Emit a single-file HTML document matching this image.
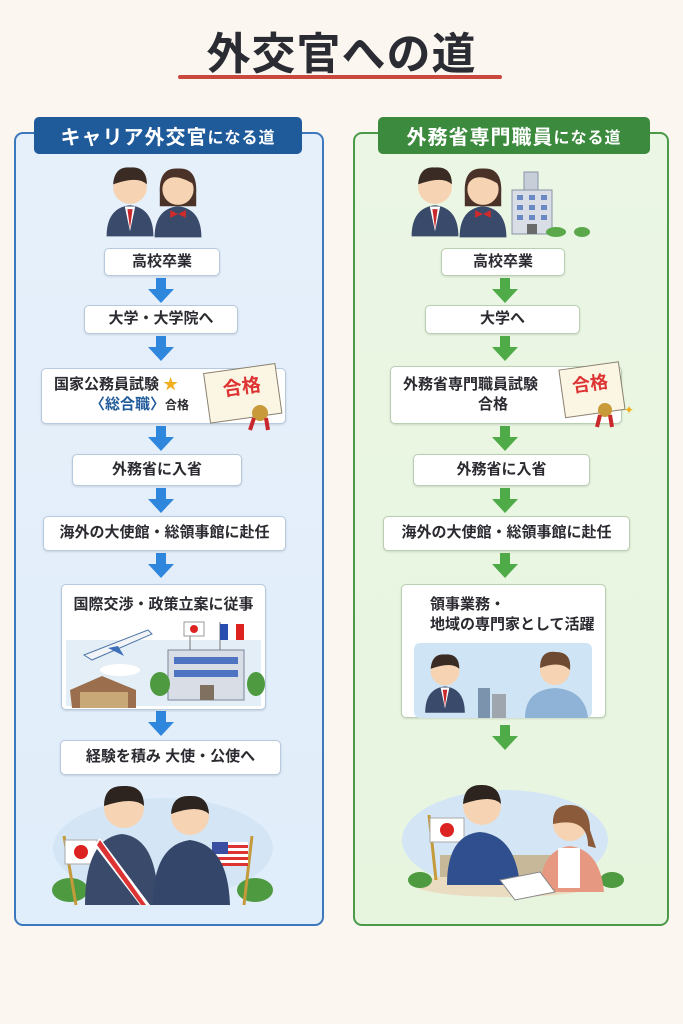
<!DOCTYPE html>
<html><head><meta charset="utf-8"><style>
*{margin:0;padding:0;box-sizing:border-box}
body{width:683px;height:1024px;background:#fbf7f0;position:relative;overflow:hidden;font-family:"Liberation Sans","Noto Sans CJK JP",sans-serif;color:#2a2a30}
.a{position:absolute}
.title{left:0;width:683px;top:18px;text-align:center;font-size:44px;font-weight:bold;color:#2b2b33;letter-spacing:1px}
.ul{left:178px;top:75px;width:324px;height:4px;background:#c9483e;border-radius:2px}
.panel{border-radius:9px;border:2.5px solid}
.pl{left:14px;top:132px;width:310px;height:794px;background:linear-gradient(#e6f0fb,#e0edfa);border-color:#3b78bd}
.pr{left:353px;top:132px;width:316px;height:794px;background:linear-gradient(#ebf6e4,#e7f5df);border-color:#4a9a49}
.tab{height:37px;border-radius:5px;color:#fff;font-size:20px;font-weight:bold;display:flex;align-items:center;justify-content:center;letter-spacing:1px}
.box{background:#fff;border:1.5px solid #b7c9dc;border-radius:5px;display:flex;align-items:center;justify-content:center;font-size:15px;font-weight:bold;text-align:center;line-height:1.35;box-shadow:0 1px 2px rgba(0,0,0,.12)}
.g .box,.box.g{border-color:#b9cfb1}
</style></head><body>
<svg width="0" height="0" style="position:absolute"><defs>
<g id="boy"><path d="M-18 48 Q-18 26 0 24 Q18 26 18 48Z" fill="#3a4a6b"/><path d="M-4 25 L0 44 L4 25Z" fill="#fff"/><path d="M-2 27 L0 42 L2 27Z" fill="#c8282c"/><circle cx="0" cy="10" r="13" fill="#f6d3b3"/><path d="M-13 8 Q-12 -6 0 -5 Q13 -6 13 8 Q6 1 -13 8Z" fill="#3a2c24"/></g>
<g id="girl"><path d="M-18 48 Q-18 26 0 24 Q18 26 18 48Z" fill="#3a4a6b"/><path d="M-14 14 Q-15 -6 0 -5 Q15 -6 14 14 L14 24 L-14 24Z" fill="#4a3228"/><circle cx="0" cy="11" r="12" fill="#f6d3b3"/><path d="M-12 8 Q-6 -4 12 7 Q10 -5 0 -4 Q-12 -4 -12 8Z" fill="#4a3228"/><path d="M-6 27 L0 30 L6 27 L6 33 L0 30 L-6 33Z" fill="#d02a2a"/></g>
<g id="bldg"><rect x="0" y="0" width="40" height="44" fill="#d8dde6" stroke="#8894a6"/><g fill="#6a89c4"><rect x="5" y="5" width="6" height="5"/><rect x="17" y="5" width="6" height="5"/><rect x="29" y="5" width="6" height="5"/><rect x="5" y="15" width="6" height="5"/><rect x="17" y="15" width="6" height="5"/><rect x="29" y="15" width="6" height="5"/><rect x="5" y="25" width="6" height="5"/><rect x="17" y="25" width="6" height="5"/><rect x="29" y="25" width="6" height="5"/></g><rect x="15" y="34" width="10" height="10" fill="#6a6a6a"/></g>
<g id="arrB"><rect x="-5" y="0" width="10" height="12" fill="#2f86dd"/><path d="M-13 11 L13 11 L0 25Z" fill="#2f86dd"/></g>
<g id="arrG"><rect x="-5" y="0" width="10" height="12" fill="#4faa48"/><path d="M-13 11 L13 11 L0 25Z" fill="#4faa48"/></g>
</defs></svg>

<div class="a title">外交官への道</div>
<div class="a ul"></div>

<div class="a panel pl"></div>
<div class="a panel pr"></div>
<div class="a tab" style="left:34px;top:117px;width:268px;background:#1f5a9a">キャリア外交官<span style="font-size:16px">になる道</span></div>
<div class="a tab" style="left:378px;top:117px;width:272px;background:#3b8a3e">外務省専門職員<span style="font-size:16px">になる道</span></div>

<svg class="a" style="left:0;top:0" width="683" height="1024">
 <use href="#boy" transform="translate(130 174) scale(1.3)"/><use href="#girl" transform="translate(178 175) scale(1.3)"/>
 <use href="#boy" transform="translate(435 174) scale(1.3)"/><use href="#girl" transform="translate(483 175) scale(1.3)"/>
 <use href="#bldg" x="512" y="190"/><rect x="524" y="172" width="14" height="18" fill="#c8ced8" stroke="#8894a6"/>
 <ellipse cx="556" cy="232" rx="10" ry="5" fill="#5aa84a"/><ellipse cx="582" cy="232" rx="8" ry="5" fill="#5aa84a"/>
 <use href="#arrB" x="161" y="278"/><use href="#arrB" x="161" y="336"/><use href="#arrB" x="161" y="426"/>
 <use href="#arrB" x="161" y="488"/><use href="#arrB" x="161" y="553"/><use href="#arrB" x="161" y="711"/>
 <use href="#arrG" x="505" y="278"/><use href="#arrG" x="505" y="336"/><use href="#arrG" x="505" y="426"/>
 <use href="#arrG" x="505" y="488"/><use href="#arrG" x="505" y="553"/><use href="#arrG" x="505" y="725"/>
</svg>

<div class="a box" style="left:104px;top:248px;width:116px;height:28px">高校卒業</div>
<div class="a box" style="left:84px;top:305px;width:154px;height:29px">大学・大学院へ</div>
<div class="a box" style="left:41px;top:368px;width:245px;height:56px;justify-content:flex-start;padding-left:12px;display:block;padding-top:6px;text-align:left">国家公務員試験 <span style="color:#f0b020">★</span><br><span style="margin-left:36px;color:#1f5a9a">〈総合職〉</span><span style="font-size:12px">合格</span></div>
<div class="a box" style="left:72px;top:454px;width:170px;height:32px">外務省に入省</div>
<div class="a box" style="left:43px;top:516px;width:243px;height:35px">海外の大使館・総領事館に赴任</div>
<div class="a box" style="left:61px;top:584px;width:205px;height:126px;align-items:flex-start;padding-top:10px">国際交渉・政策立案に従事</div>
<div class="a box" style="left:60px;top:740px;width:221px;height:35px">経験を積み 大使・公使へ</div>

<div class="a box g" style="left:441px;top:248px;width:124px;height:28px">高校卒業</div>
<div class="a box g" style="left:425px;top:305px;width:155px;height:29px">大学へ</div>
<div class="a box g" style="left:390px;top:366px;width:232px;height:58px;justify-content:flex-start;padding-left:12px">外務省専門職員試験<br>　　　合格</div>
<div class="a box g" style="left:413px;top:454px;width:177px;height:32px">外務省に入省</div>
<div class="a box g" style="left:383px;top:516px;width:247px;height:35px">海外の大使館・総領事館に赴任</div>
<div class="a box g" style="left:401px;top:584px;width:205px;height:134px;display:block;text-align:left;padding:10px 0 0 28px">領事業務・<br>地域の専門家として活躍</div>

<svg class="a" style="left:0;top:0" width="683" height="1024">
 <g transform="rotate(-8 245 395)"><rect x="207" y="368" width="72" height="50" fill="#fbf5e4" stroke="#8a8070"/><text x="243" y="393" font-size="19" font-weight="bold" fill="#d33" text-anchor="middle" font-family="Liberation Sans,Noto Sans CJK JP,sans-serif">合格</text></g>
 <circle cx="260" cy="413" r="8" fill="#c99a3a"/><path d="M254 418 L250 430 M266 418 L268 430" stroke="#c8282c" stroke-width="4"/>
 <g transform="rotate(-8 590 390)"><rect x="562" y="366" width="60" height="48" fill="#fbf5e4" stroke="#8a8070"/><text x="591" y="390" font-size="18" font-weight="bold" fill="#d33" text-anchor="middle" font-family="Liberation Sans,Noto Sans CJK JP,sans-serif">合格</text></g>
 <circle cx="605" cy="410" r="7" fill="#c99a3a"/><path d="M600 415 L597 427 M610 415 L612 427" stroke="#c8282c" stroke-width="4"/>
 <text x="624" y="414" font-size="12" fill="#f0b020">✦</text>
 <rect x="66" y="640" width="195" height="66" fill="#e3eef7"/>
 <ellipse cx="120" cy="670" rx="20" ry="6" fill="#fff"/>
 <path d="M84 655 L148 630 L152 634 L92 660Z" fill="#f2f4f8" stroke="#5078a8"/><path d="M108 648 L124 656 L118 646Z" fill="#3c70b8"/>
 <rect x="168" y="650" width="76" height="50" fill="#d8dde6" stroke="#7a8699"/>
 <g fill="#4f74c2"><rect x="174" y="657" width="64" height="7"/><rect x="174" y="670" width="64" height="7"/></g>
 <rect x="200" y="685" width="14" height="15" fill="#807060"/>
 <line x1="190" y1="622" x2="190" y2="650" stroke="#777"/><rect x="184" y="622" width="20" height="14" fill="#fff" stroke="#999"/><circle cx="194" cy="629" r="4" fill="#d22"/>
 <line x1="220" y1="622" x2="220" y2="650" stroke="#777"/><rect x="220" y="624" width="24" height="16" fill="#fff"/><rect x="220" y="624" width="8" height="16" fill="#2a4db0"/><rect x="236" y="624" width="8" height="16" fill="#d22"/>
 <ellipse cx="160" cy="684" rx="10" ry="12" fill="#4e9a40"/><ellipse cx="256" cy="684" rx="9" ry="12" fill="#4e9a40"/>
 <path d="M70 690 L102 676 L136 690 L136 708 L72 708Z" fill="#9b6f4e"/><rect x="80" y="692" width="48" height="16" fill="#c9a878"/>
 <rect x="414" y="643" width="178" height="75" rx="6" fill="#cfe4f4"/>
 <rect x="478" y="688" width="12" height="30" fill="#7c93ad"/><rect x="492" y="694" width="14" height="24" fill="#a0a6ae"/>
 <use href="#boy" transform="translate(445 660) scale(1.1)"/>
 <path d="M525 718 Q525 690 555 688 Q585 690 588 718Z" fill="#8fb3d6"/><circle cx="555" cy="670" r="15" fill="#f6d3b3"/><path d="M540 668 Q540 650 556 652 Q572 652 570 670 Q560 660 540 668Z" fill="#6e4a32"/>
 <ellipse cx="163" cy="848" rx="110" ry="50" fill="#d4e6f5"/>
 <ellipse cx="70" cy="890" rx="18" ry="12" fill="#4e9a40"/><ellipse cx="255" cy="890" rx="18" ry="12" fill="#4e9a40"/>
 <line x1="64" y1="836" x2="76" y2="905" stroke="#c49a3a" stroke-width="3"/><rect x="65" y="840" width="32" height="24" fill="#fff" stroke="#aaa"/><circle cx="81" cy="852" r="7" fill="#d22"/>
 <line x1="252" y1="836" x2="244" y2="905" stroke="#c49a3a" stroke-width="3"/>
 <rect x="212" y="842" width="36" height="24" fill="#fff"/><g fill="#d33"><rect x="212" y="845" width="36" height="3"/><rect x="212" y="851" width="36" height="3"/><rect x="212" y="857" width="36" height="3"/><rect x="212" y="863" width="36" height="3"/></g><rect x="212" y="842" width="16" height="12" fill="#3a4fa0"/>
 <path d="M85 905 Q85 838 122 834 Q158 838 158 905Z" fill="#3a4a6b"/><path d="M100 838 L150 905 L140 905 L94 845Z" fill="#fff"/><path d="M100 840 L146 905 L141 905 L97 845Z" fill="#d33"/>
 <circle cx="124" cy="808" r="20" fill="#f6d3b3"/><path d="M104 806 Q104 785 124 786 Q144 785 144 806 Q134 796 104 806Z" fill="#2d2420"/>
 <path d="M153 905 Q153 845 190 840 Q228 845 230 905Z" fill="#34476b"/><circle cx="190" cy="816" r="19" fill="#f6d3b3"/><path d="M171 814 Q172 795 190 796 Q208 795 209 814 Q198 804 171 814Z" fill="#2d2420"/>
 <ellipse cx="505" cy="840" rx="103" ry="50" fill="#d4e6f5"/>
 <ellipse cx="505" cy="885" rx="90" ry="12" fill="#e9dcc0"/>
 <rect x="440" y="855" width="130" height="22" fill="#c8b89a"/>
 <line x1="429" y1="815" x2="436" y2="880" stroke="#c49a3a" stroke-width="3"/><rect x="430" y="818" width="34" height="24" fill="#fff" stroke="#aaa"/><circle cx="447" cy="830" r="7" fill="#d22"/>
 <ellipse cx="420" cy="880" rx="12" ry="8" fill="#4e9a40"/><ellipse cx="612" cy="880" rx="12" ry="8" fill="#4e9a40"/>
 <path d="M447 885 Q447 835 480 832 Q515 835 520 885Z" fill="#2f4f8e"/><circle cx="482" cy="806" r="19" fill="#f6d3b3"/><path d="M463 804 Q464 784 482 785 Q500 785 501 804 Q492 794 463 804Z" fill="#2d2420"/>
 <path d="M540 892 Q540 850 570 846 Q600 850 604 892Z" fill="#e69880"/><rect x="558" y="848" width="22" height="40" fill="#fff"/><circle cx="570" cy="824" r="17" fill="#f6d3b3"/><path d="M553 824 Q552 804 571 805 Q590 806 590 830 L596 848 L588 846 Q588 816 553 824Z" fill="#8a5a3a"/>
 <path d="M500 880 L540 872 L555 892 L515 900Z" fill="#fff" stroke="#888"/>
</svg>
</body></html>
